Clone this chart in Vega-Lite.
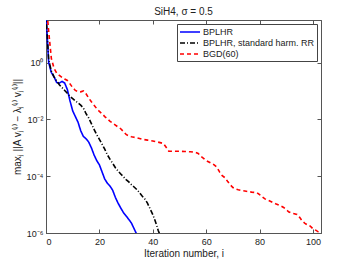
{
  "$schema": "https://vega.github.io/schema/vega-lite/v6.json",
  "width": 275,
  "height": 213,
  "autosize": "none",
  "padding": {"left": 46, "top": 20, "right": 33, "bottom": 33},
  "title": {"text": "SiH4, σ = 0.5", "fontSize": 10, "fontWeight": "normal", "font": "Liberation Sans", "offset": -20, "anchor": "middle", "color": "#222"},
  "config": {
    "font": "Liberation Sans",
    "view": {"stroke": "#666", "strokeWidth": 1},
    "axis": {"grid": false, "domainColor": "#555", "tickColor": "#555", "tickSize": -4, "labelFontSize": 9, "labelColor": "#222", "titleFontSize": 10, "titleFontWeight": "normal", "titleColor": "#222", "labelFont": "Liberation Sans", "titleFont": "Liberation Sans"}
  },
  "data": {"values": [
    {"it":0,"v":50.12,"s":"BPLHR"},{"it":1,"v":1,"s":"BPLHR"},{"it":2,"v":0.4467,"s":"BPLHR"},{"it":3,"v":0.3162,"s":"BPLHR"},{"it":4,"v":0.1995,"s":"BPLHR"},{"it":5,"v":0.1905,"s":"BPLHR"},{"it":6,"v":0.2188,"s":"BPLHR"},{"it":7,"v":0.1905,"s":"BPLHR"},{"it":8,"v":0.1122,"s":"BPLHR"},{"it":9,"v":0.04467,"s":"BPLHR"},{"it":10,"v":0.01995,"s":"BPLHR"},{"it":11,"v":0.01259,"s":"BPLHR"},{"it":12,"v":0.007943,"s":"BPLHR"},{"it":13,"v":0.003981,"s":"BPLHR"},{"it":14,"v":0.002512,"s":"BPLHR"},{"it":15,"v":0.002089,"s":"BPLHR"},{"it":16,"v":0.001585,"s":"BPLHR"},{"it":17,"v":0.001,"s":"BPLHR"},{"it":18,"v":0.0005623,"s":"BPLHR"},{"it":19,"v":0.0003548,"s":"BPLHR"},{"it":20,"v":0.0002512,"s":"BPLHR"},{"it":21,"v":0.0001413,"s":"BPLHR"},{"it":22,"v":0.00007943,"s":"BPLHR"},{"it":23,"v":0.00005623,"s":"BPLHR"},{"it":24,"v":0.00004467,"s":"BPLHR"},{"it":25,"v":0.00003162,"s":"BPLHR"},{"it":26,"v":0.00001778,"s":"BPLHR"},{"it":27,"v":0.00001122,"s":"BPLHR"},{"it":28,"v":0.000007586,"s":"BPLHR"},{"it":29,"v":0.000005248,"s":"BPLHR"},{"it":30,"v":0.000003981,"s":"BPLHR"},{"it":31,"v":0.00000302,"s":"BPLHR"},{"it":32,"v":0.000002239,"s":"BPLHR"},{"it":33,"v":0.000001413,"s":"BPLHR"},{"it":34,"v":0.0000008913,"s":"BPLHR"},
    {"it":0,"v":50.12,"s":"BPLHR, standard harm. RR"},{"it":1,"v":1.259,"s":"BPLHR, standard harm. RR"},{"it":2,"v":0.5012,"s":"BPLHR, standard harm. RR"},{"it":3,"v":0.3162,"s":"BPLHR, standard harm. RR"},{"it":4,"v":0.2239,"s":"BPLHR, standard harm. RR"},{"it":5,"v":0.166,"s":"BPLHR, standard harm. RR"},{"it":6,"v":0.1318,"s":"BPLHR, standard harm. RR"},{"it":7,"v":0.1047,"s":"BPLHR, standard harm. RR"},{"it":8,"v":0.08318,"s":"BPLHR, standard harm. RR"},{"it":9,"v":0.06457,"s":"BPLHR, standard harm. RR"},{"it":10,"v":0.0537,"s":"BPLHR, standard harm. RR"},{"it":11,"v":0.04467,"s":"BPLHR, standard harm. RR"},{"it":12,"v":0.03802,"s":"BPLHR, standard harm. RR"},{"it":13,"v":0.03162,"s":"BPLHR, standard harm. RR"},{"it":14,"v":0.02512,"s":"BPLHR, standard harm. RR"},{"it":15,"v":0.01585,"s":"BPLHR, standard harm. RR"},{"it":16,"v":0.01122,"s":"BPLHR, standard harm. RR"},{"it":17,"v":0.007079,"s":"BPLHR, standard harm. RR"},{"it":18,"v":0.004467,"s":"BPLHR, standard harm. RR"},{"it":19,"v":0.002884,"s":"BPLHR, standard harm. RR"},{"it":20,"v":0.001995,"s":"BPLHR, standard harm. RR"},{"it":21,"v":0.001349,"s":"BPLHR, standard harm. RR"},{"it":22,"v":0.0008913,"s":"BPLHR, standard harm. RR"},{"it":23,"v":0.0005623,"s":"BPLHR, standard harm. RR"},{"it":24,"v":0.000389,"s":"BPLHR, standard harm. RR"},{"it":25,"v":0.0002818,"s":"BPLHR, standard harm. RR"},{"it":26,"v":0.0001995,"s":"BPLHR, standard harm. RR"},{"it":27,"v":0.0001514,"s":"BPLHR, standard harm. RR"},{"it":28,"v":0.0001202,"s":"BPLHR, standard harm. RR"},{"it":29,"v":0.0000955,"s":"BPLHR, standard harm. RR"},{"it":30,"v":0.00007586,"s":"BPLHR, standard harm. RR"},{"it":31,"v":0.0000631,"s":"BPLHR, standard harm. RR"},{"it":32,"v":0.00005012,"s":"BPLHR, standard harm. RR"},{"it":33,"v":0.00004169,"s":"BPLHR, standard harm. RR"},{"it":34,"v":0.00003388,"s":"BPLHR, standard harm. RR"},{"it":35,"v":0.0000263,"s":"BPLHR, standard harm. RR"},{"it":36,"v":0.00001995,"s":"BPLHR, standard harm. RR"},{"it":37,"v":0.00001585,"s":"BPLHR, standard harm. RR"},{"it":38,"v":0.00001122,"s":"BPLHR, standard harm. RR"},{"it":39,"v":0.000007079,"s":"BPLHR, standard harm. RR"},{"it":40,"v":0.000004467,"s":"BPLHR, standard harm. RR"},{"it":41,"v":0.000002512,"s":"BPLHR, standard harm. RR"},{"it":42,"v":0.000001259,"s":"BPLHR, standard harm. RR"},{"it":43,"v":0.0000007079,"s":"BPLHR, standard harm. RR"},
    {"it":0,"v":158.5,"s":"BGD(60)"},{"it":1,"v":12.59,"s":"BGD(60)"},{"it":2,"v":1.413,"s":"BGD(60)"},{"it":3,"v":0.631,"s":"BGD(60)"},{"it":4,"v":0.4266,"s":"BGD(60)"},{"it":5,"v":0.3548,"s":"BGD(60)"},{"it":6,"v":0.302,"s":"BGD(60)"},{"it":7,"v":0.263,"s":"BGD(60)"},{"it":8,"v":0.2344,"s":"BGD(60)"},{"it":9,"v":0.1778,"s":"BGD(60)"},{"it":10,"v":0.1318,"s":"BGD(60)"},{"it":11,"v":0.1047,"s":"BGD(60)"},{"it":12,"v":0.0955,"s":"BGD(60)"},{"it":13,"v":0.09333,"s":"BGD(60)"},{"it":14,"v":0.1,"s":"BGD(60)"},{"it":15,"v":0.07943,"s":"BGD(60)"},{"it":16,"v":0.05623,"s":"BGD(60)"},{"it":17,"v":0.04169,"s":"BGD(60)"},{"it":18,"v":0.03162,"s":"BGD(60)"},{"it":19,"v":0.02399,"s":"BGD(60)"},{"it":20,"v":0.01905,"s":"BGD(60)"},{"it":21,"v":0.01585,"s":"BGD(60)"},{"it":22,"v":0.01259,"s":"BGD(60)"},{"it":23,"v":0.01047,"s":"BGD(60)"},{"it":24,"v":0.008511,"s":"BGD(60)"},{"it":25,"v":0.007413,"s":"BGD(60)"},{"it":26,"v":0.00631,"s":"BGD(60)"},{"it":27,"v":0.00537,"s":"BGD(60)"},{"it":28,"v":0.004677,"s":"BGD(60)"},{"it":29,"v":0.003715,"s":"BGD(60)"},{"it":30,"v":0.002951,"s":"BGD(60)"},{"it":31,"v":0.00263,"s":"BGD(60)"},{"it":32,"v":0.002455,"s":"BGD(60)"},{"it":33,"v":0.002344,"s":"BGD(60)"},{"it":34,"v":0.002239,"s":"BGD(60)"},{"it":36,"v":0.001995,"s":"BGD(60)"},{"it":38,"v":0.001862,"s":"BGD(60)"},{"it":40,"v":0.001738,"s":"BGD(60)"},{"it":42,"v":0.001585,"s":"BGD(60)"},{"it":44,"v":0.001413,"s":"BGD(60)"},{"it":45,"v":0.001047,"s":"BGD(60)"},{"it":46,"v":0.0007586,"s":"BGD(60)"},{"it":48,"v":0.0007586,"s":"BGD(60)"},{"it":50,"v":0.0007586,"s":"BGD(60)"},{"it":52,"v":0.0007413,"s":"BGD(60)"},{"it":54,"v":0.0007244,"s":"BGD(60)"},{"it":56,"v":0.0006918,"s":"BGD(60)"},{"it":57,"v":0.000631,"s":"BGD(60)"},{"it":58,"v":0.0005012,"s":"BGD(60)"},{"it":59,"v":0.0004266,"s":"BGD(60)"},{"it":60,"v":0.0003548,"s":"BGD(60)"},{"it":61,"v":0.0003162,"s":"BGD(60)"},{"it":62,"v":0.0002818,"s":"BGD(60)"},{"it":63,"v":0.0002512,"s":"BGD(60)"},{"it":64,"v":0.0002089,"s":"BGD(60)"},{"it":65,"v":0.0001413,"s":"BGD(60)"},{"it":66,"v":0.0001047,"s":"BGD(60)"},{"it":67,"v":0.00008913,"s":"BGD(60)"},{"it":68,"v":0.00006607,"s":"BGD(60)"},{"it":69,"v":0.00005012,"s":"BGD(60)"},{"it":70,"v":0.00003981,"s":"BGD(60)"},{"it":71,"v":0.00003548,"s":"BGD(60)"},{"it":72,"v":0.00003311,"s":"BGD(60)"},{"it":73,"v":0.00003162,"s":"BGD(60)"},{"it":75,"v":0.00002951,"s":"BGD(60)"},{"it":77,"v":0.00002754,"s":"BGD(60)"},{"it":79,"v":0.0000263,"s":"BGD(60)"},{"it":80,"v":0.00002239,"s":"BGD(60)"},{"it":81,"v":0.00001862,"s":"BGD(60)"},{"it":82,"v":0.00001585,"s":"BGD(60)"},{"it":83,"v":0.00001445,"s":"BGD(60)"},{"it":84,"v":0.00001318,"s":"BGD(60)"},{"it":86,"v":0.00001072,"s":"BGD(60)"},{"it":88,"v":0.000008913,"s":"BGD(60)"},{"it":89,"v":0.000007943,"s":"BGD(60)"},{"it":90,"v":0.000006607,"s":"BGD(60)"},{"it":91,"v":0.000005495,"s":"BGD(60)"},{"it":92,"v":0.000005012,"s":"BGD(60)"},{"it":93,"v":0.000004786,"s":"BGD(60)"},{"it":94,"v":0.000004467,"s":"BGD(60)"},{"it":95,"v":0.000003548,"s":"BGD(60)"},{"it":96,"v":0.00000263,"s":"BGD(60)"},{"it":97,"v":0.000002188,"s":"BGD(60)"},{"it":98,"v":0.000001905,"s":"BGD(60)"},{"it":99,"v":0.000001738,"s":"BGD(60)"},{"it":100,"v":0.000001413,"s":"BGD(60)"},{"it":101,"v":0.000001259,"s":"BGD(60)"},{"it":102,"v":0.000001096,"s":"BGD(60)"},{"it":103,"v":0.000001,"s":"BGD(60)"}
  ]},
  "resolve": {"axis": {"x": "independent", "y": "independent"}},
  "layer": [
    {
      "mark": {"type": "line", "clip": true, "strokeWidth": 1.6},
      "encoding": {
        "x": {"field": "it", "type": "quantitative", "scale": {"domain": [0, 103], "nice": false, "zero": false},
              "axis": {"values": [0, 20, 40, 60, 80, 100], "title": "Iteration number, i", "labelPadding": 8, "titlePadding": 2}},
        "y": {"field": "v", "type": "quantitative", "scale": {"type": "log", "domain": [0.000001, 31.62], "nice": false},
              "axis": {"values": [0.000001, 0.0001, 0.01, 1], "labelPadding": 7, "titlePadding": 4, "title": "maxⱼ ||A vⱼ⁽ⁱ⁾ − λⱼ⁽ⁱ⁾ vⱼ⁽ⁱ⁾||",
                       "labelExpr": "round(log(datum.value)/LN10) == 0 ? '10⁰' : round(log(datum.value)/LN10) == -2 ? '10⁻²' : round(log(datum.value)/LN10) == -4 ? '10⁻⁴' : '10⁻⁶'"}},
        "color": {"field": "s", "type": "nominal",
                  "scale": {"domain": ["BPLHR", "BPLHR, standard harm. RR", "BGD(60)"], "range": ["#0000ff", "#000000", "#ff0000"]},
                  "legend": {"title": null, "orient": "top-right", "offset": 4, "strokeColor": "#444", "fillColor": "#ffffff", "padding": 2, "symbolType": "M-2,0H2", "symbolSize": 100, "symbolStrokeWidth": 1.6, "labelFontSize": 9, "labelColor": "#222", "rowPadding": 0, "labelOffset": 12, "cornerRadius": 0,
                             "encode": {"symbols": {"update": {"x": {"value": 11}}}}}},
        "strokeDash": {"field": "s", "type": "nominal",
                       "scale": {"domain": ["BPLHR", "BPLHR, standard harm. RR", "BGD(60)"], "range": [[1, 0], [5, 2, 1, 2], [4, 3]]},
                       "legend": {"title": null, "orient": "top-right", "offset": 4, "strokeColor": "#444", "fillColor": "#ffffff", "padding": 2, "symbolType": "M-2,0H2", "symbolSize": 100, "symbolStrokeWidth": 1.6, "labelFontSize": 9, "labelColor": "#222", "rowPadding": 0, "labelOffset": 12, "cornerRadius": 0,
                                  "encode": {"symbols": {"update": {"x": {"value": 11}}}}}}
      }
    },
    {
      "mark": {"type": "point", "opacity": 0},
      "encoding": {
        "x": {"field": "it", "type": "quantitative", "scale": {"domain": [0, 103], "nice": false, "zero": false},
              "axis": {"orient": "top", "values": [0, 20, 40, 60, 80, 100], "labels": false, "title": null}},
        "y": {"field": "v", "type": "quantitative", "scale": {"type": "log", "domain": [0.000001, 31.62], "nice": false},
              "axis": {"orient": "right", "values": [0.000001, 0.0001, 0.01, 1], "labels": false, "title": null}}
      }
    }
  ]
}
